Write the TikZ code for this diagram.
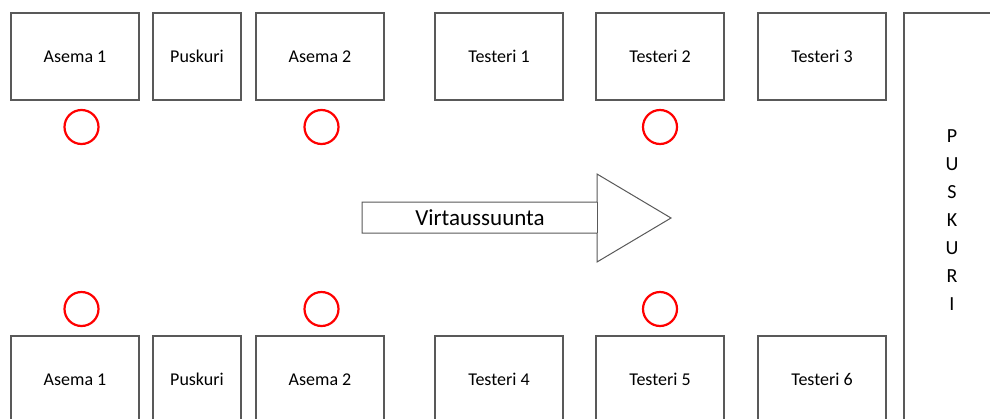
\documentclass[tikz,border=0pt]{standalone}
\usepackage{fontspec}
\setmainfont{Carlito}
\begin{document}
\begin{tikzpicture}[x=1pt,y=-1pt,
  station/.style={draw=black!65,line width=1.2pt,fill=white,minimum width=128pt,minimum height=87pt,inner sep=0pt,font=\fontsize{18}{20}\selectfont},
  bufbox/.style={station,minimum width=88pt},
  spot/.style={draw=red,line width=2.2pt,circle,minimum size=34pt,inner sep=0pt},
  flow/.style={draw=black!65,line width=1pt,fill=white}]
\useasboundingbox (0,0) rectangle (990,418);
% top row
\node[station] (a1t) at (75,56.5) {Asema 1};
\node[bufbox] (p1t) at (197,56.5) {Puskuri};
\node[station] (a2t) at (320,56.5) {Asema 2};
\node[station] (t1) at (499,56.5) {Testeri 1};
\node[station] (t2) at (660,56.5) {Testeri 2};
\node[station] (t3) at (822,56.5) {Testeri 3};
% bottom row
\node[station] (a1b) at (75,379.5) {Asema 1};
\node[bufbox] (p1b) at (197,379.5) {Puskuri};
\node[station] (a2b) at (320,379.5) {Asema 2};
\node[station] (t4) at (499,379.5) {Testeri 4};
\node[station] (t5) at (660,379.5) {Testeri 5};
\node[station] (t6) at (822,379.5) {Testeri 6};
% big buffer
\draw[draw=black!65,line width=1.2pt] (1000,13) -- (904,13) -- (904,430);
\node[font=\fontsize{20}{28}\selectfont,align=center,inner sep=0pt] (pbig) at (952,220) {P\\U\\S\\K\\U\\R\\I};
% circles
\node[spot] (c1) at (81.5,127) {};
\node[spot] (c2) at (321.5,127) {};
\node[spot] (c3) at (660,127) {};
\node[spot] (c4) at (81.5,309) {};
\node[spot] (c5) at (321.5,309) {};
\node[spot] (c6) at (660,309) {};
% flow arrow
\draw[flow] (362,202) -- (597,202) -- (597,174) -- (671,218) -- (597,262) -- (597,233) -- (362,233) -- cycle;
\draw[draw=black!65,line width=1pt] (597,202) -- (597,233);
\node[font=\fontsize{23}{25}\selectfont] (flowlbl) at (480,217.5) {Virtaussuunta};
\end{tikzpicture}
\end{document}
